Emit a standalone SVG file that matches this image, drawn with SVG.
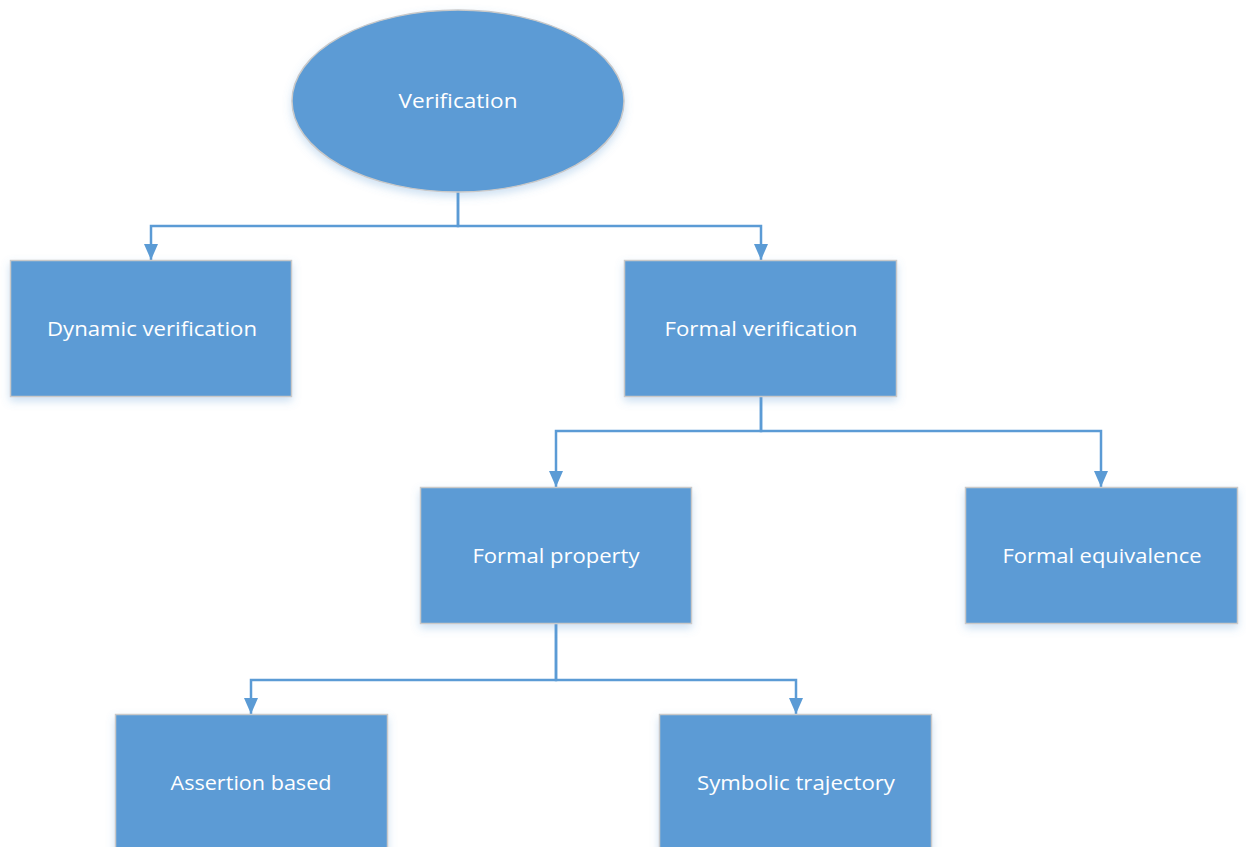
<svg xmlns="http://www.w3.org/2000/svg" width="1246" height="847" viewBox="0 0 1246 847">
  <style>
    .node { fill: #5B9BD5; stroke: #C9C9C9; stroke-width: 1.5; filter: url(#soft); }
    .label { fill: #FFFFFF; font-family: "Open Sans", "Noto Sans", "DejaVu Sans", sans-serif; font-size: 19.5px; text-anchor: middle; }
    .wire { fill: none; stroke: #5B9BD5; stroke-width: 2.5; marker-end: url(#arrow); }
  </style>
  <defs>
    <filter id="soft" x="-10%" y="-10%" width="120%" height="130%">
      <feDropShadow dx="0" dy="4" stdDeviation="4" flood-color="#5B9BD5" flood-opacity="0.3"/>
    </filter>
    <!-- arrowhead drawn along +x so orient="auto" points it down the line -->
    <marker id="arrow" viewBox="0 0 16 14" refX="16" refY="7" markerWidth="16" markerHeight="14" markerUnits="userSpaceOnUse" orient="auto">
      <path d="M0,0 L16,7 L0,14 Z" fill="#5B9BD5"/>
    </marker>
  </defs>

  <rect width="1246" height="847" fill="#FFFFFF"/>

  <g id="connectors">
    <path class="wire" d="M458,192 V226 H151 V260"/>
    <path class="wire" d="M458,192 V226 H761 V260"/>
    <path class="wire" d="M761,397 V431 H556 V487"/>
    <path class="wire" d="M761,397 V431 H1101 V487"/>
    <path class="wire" d="M556,624 V680 H251 V714"/>
    <path class="wire" d="M556,624 V680 H796 V714"/>
  </g>

  <g id="verification">
    <ellipse class="node" cx="458" cy="101" rx="166" ry="91"/>
    <text class="label" x="458" y="108" textLength="119" lengthAdjust="spacingAndGlyphs">Verification</text>
  </g>

  <g id="dynamic-verification">
    <rect class="node" x="10.5" y="260.5" width="281" height="136"/>
    <text class="label" x="152" y="336" textLength="210" lengthAdjust="spacingAndGlyphs">Dynamic verification</text>
  </g>

  <g id="formal-verification">
    <rect class="node" x="624.5" y="260.5" width="272" height="136"/>
    <text class="label" x="761" y="336" textLength="193" lengthAdjust="spacingAndGlyphs">Formal verification</text>
  </g>

  <g id="formal-property">
    <rect class="node" x="420.5" y="487.5" width="271" height="136"/>
    <text class="label" x="556" y="563" textLength="167" lengthAdjust="spacingAndGlyphs">Formal property</text>
  </g>

  <g id="formal-equivalence">
    <rect class="node" x="965.5" y="487.5" width="272" height="136"/>
    <text class="label" x="1102" y="563" textLength="199" lengthAdjust="spacingAndGlyphs">Formal equivalence</text>
  </g>

  <g id="assertion-based">
    <rect class="node" x="115.5" y="714.5" width="272" height="140"/>
    <text class="label" x="251" y="790" textLength="161" lengthAdjust="spacingAndGlyphs">Assertion based</text>
  </g>

  <g id="symbolic-trajectory">
    <rect class="node" x="659.5" y="714.5" width="272" height="140"/>
    <text class="label" x="796" y="790" textLength="198" lengthAdjust="spacingAndGlyphs">Symbolic trajectory</text>
  </g>
</svg>
